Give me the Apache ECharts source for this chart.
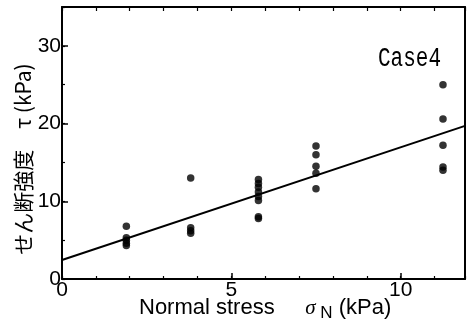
<!DOCTYPE html>
<html>
<head>
<meta charset="utf-8">
<script src="https://cdn.jsdelivr.net/npm/echarts@6/dist/echarts.min.js"></script>
<style>
html,body{margin:0;padding:0;background:#fff;}
#chart{width:468px;height:325px;}
</style>
</head>
<body>
<div id="chart"></div>
<script>
// Normal stress groups (kPa)
const sigmaN = [1.9, 3.8, 5.8, 7.5, 11.25];
// Shear strength values (kPa) per group
const tauG1 = [6.8, 5.3, 5.0, 4.6, 4.3];
const tauG2 = [13.0, 6.6, 6.2, 5.9];
const tauG3 = [12.8, 12.3, 11.8, 11.2, 10.6, 10.1, 8.0, 7.8];
const tauG4 = [17.1, 16.0, 14.5, 13.6, 11.6];
const tauG5 = [25.0, 20.6, 17.2, 14.4, 14.0];
// Fitted line endpoints
const fitX = [0, 11.9];
const fitY = [2.45, 19.7];
// Ticks
const xLabelTicks = [0, 5, 10];
const yLabelTicks = [0, 10, 20, 30];

const groups = [tauG1, tauG2, tauG3, tauG4, tauG5];
const scatterData = [];
groups.forEach((g, i) => g.forEach(v => scatterData.push([sigmaN[i], v])));
const lineData = fitX.map((x, i) => [x, fitY[i]]);

const black = '#000';
const tickFont = {color: black, fontSize: 21, fontFamily: 'Liberation Sans, Arial, sans-serif'};
const chart = echarts.init(document.getElementById('chart'), null, {renderer: 'canvas'});
chart.setOption({
  animation: false,
  backgroundColor: '#fff',
  grid: {left: 62, right: 2, top: 7, bottom: 46, containLabel: false},
  xAxis: [
    {type: 'value', min: 0, max: 11.9, interval: 5, position: 'bottom',
     axisLine: {show: true, onZero: false, lineStyle: {color: black, width: 2}},
     axisTick: {show: true, inside: true, length: 6, lineStyle: {color: black, width: 1.5}},
     axisLabel: Object.assign({margin: 1, showMaxLabel: true,
       formatter: v => xLabelTicks.some(t => Math.abs(t - v) < 1e-6) ? String(v) : ''}, tickFont),
     splitLine: {show: false}},
    {type: 'value', min: 0, max: 11.9, interval: 1, position: 'bottom',
     axisLine: {show: false, onZero: false},
     axisTick: {show: true, inside: true, length: 3, lineStyle: {color: black, width: 1.2}},
     axisLabel: {show: false}, splitLine: {show: false}},
    {type: 'value', min: 0, max: 11.9, interval: 1, position: 'top',
     axisLine: {show: true, onZero: false, lineStyle: {color: black, width: 2}},
     axisTick: {show: true, inside: true, length: 4, lineStyle: {color: black, width: 1.2}},
     axisLabel: {show: false}, splitLine: {show: false}}
  ],
  yAxis: [
    {type: 'value', min: 0, max: 35, interval: 10, position: 'left',
     axisLine: {show: true, onZero: false, lineStyle: {color: black, width: 2}},
     axisTick: {show: true, inside: true, length: 6, lineStyle: {color: black, width: 1.5}},
     axisLabel: Object.assign({margin: 1,
       formatter: v => yLabelTicks.some(t => Math.abs(t - v) < 1e-6) ? String(v) : ''}, tickFont),
     splitLine: {show: false}},
    {type: 'value', min: 0, max: 35, interval: 5, position: 'left',
     axisLine: {show: false, onZero: false},
     axisTick: {show: true, inside: true, length: 3, lineStyle: {color: black, width: 1.2}},
     axisLabel: {show: false}, splitLine: {show: false}},
    {type: 'value', min: 0, max: 35, interval: 5, position: 'right',
     axisLine: {show: true, onZero: false, lineStyle: {color: black, width: 2}},
     axisTick: {show: false}, axisLabel: {show: false}, splitLine: {show: false}}
  ],
  series: [
    {type: 'line', xAxisIndex: 0, yAxisIndex: 0, data: lineData, symbol: 'none',
     lineStyle: {color: black, width: 2}, silent: true, z: 3},
    {type: 'scatter', xAxisIndex: 0, yAxisIndex: 0, data: scatterData, symbol: 'circle',
     symbolSize: 7.5, itemStyle: {color: black}, z: 4}
  ],
  graphic: [
    {type: 'text', left: 378, top: 44, scaleY: 1.35,
     style: {text: 'Case4', fill: black, font: '21px "Liberation Mono", monospace'}},
    {type: 'text', x: 23, y: 159, rotation: Math.PI / 2,
     style: {text: 'せん断強度　τ (kPa)', fill: black, textAlign: 'center', textVerticalAlign: 'middle',
       font: '21px "Noto Sans CJK JP", sans-serif'}},
    {type: 'text', left: 139, top: 297,
     style: {
       rich: {
         a: {fontSize: 22, fontFamily: 'Liberation Sans, Arial, sans-serif', fill: black},
         s: {fontSize: 21, fontFamily: 'Liberation Serif, serif', fontStyle: 'italic', fill: black},
         n: {fontSize: 17, fontFamily: 'Liberation Sans, Arial, sans-serif', fill: black, padding: [10, 0, 0, 0]}
       },
       text: '{a|Normal stress}{a|     }{s|σ}{n| N}{a| (kPa)}'
     }}
  ]
});
</script>
</body>
</html>
